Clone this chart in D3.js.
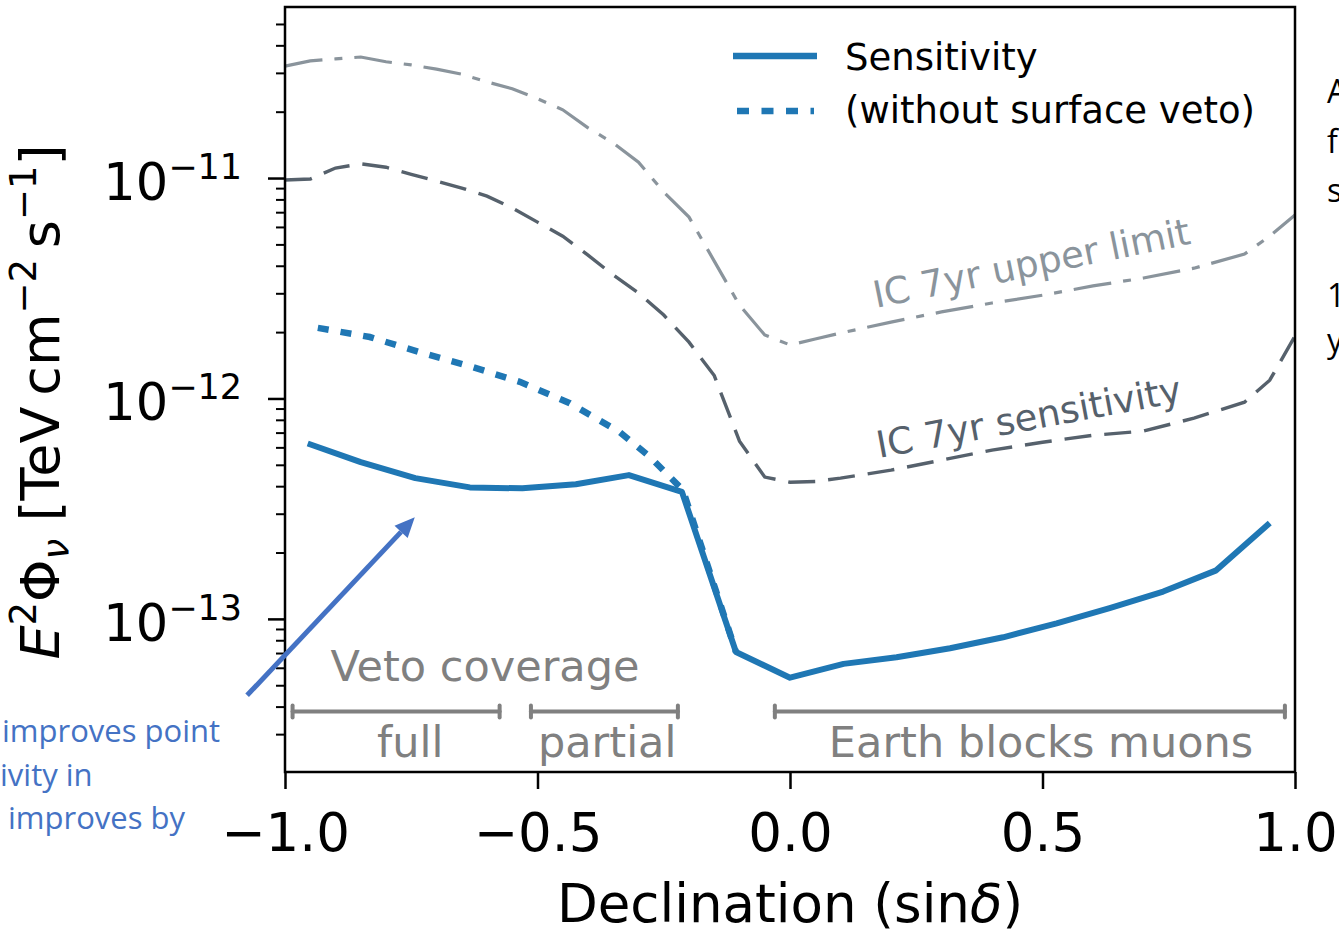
<!DOCTYPE html>
<html>
<head>
<meta charset="utf-8">
<script src="https://cdn.jsdelivr.net/npm/d3@7"></script>
<style>
  body { margin: 0; background: #fff; }
  svg { display: block; }
</style>
</head>
<body>
<script>
// sensitivity with surface veto (solid)
var sinDec = [-0.955, -0.85, -0.742, -0.634, -0.53, -0.424, -0.319, -0.214, -0.107, 0.0,
              0.106, 0.211, 0.317, 0.422, 0.528, 0.633, 0.739, 0.844, 0.95];
var sensitivity = [6.25e-13, 5.14e-13, 4.35e-13, 3.95e-13, 3.91e-13, 4.08e-13, 4.49e-13, 3.77e-13, 7.08e-14, 5.41e-14,
                   6.25e-14, 6.70e-14, 7.36e-14, 8.25e-14, 9.55e-14, 1.12e-13, 1.33e-13, 1.66e-13, 2.72e-13];

// without surface veto (dotted)
var noVetoDec = [-0.935, -0.832, -0.733, -0.634, -0.535, -0.436, -0.337, -0.277, -0.212, -0.107];
var noVeto = [2.09e-12, 1.90e-12, 1.62e-12, 1.40e-12, 1.19e-12, 9.52e-13, 7.03e-13, 5.42e-13, 3.84e-13, 7.08e-14];

// IceCube 7yr curves
var icDec = [-1.0, -0.95, -0.9, -0.85, -0.8, -0.75, -0.7, -0.65, -0.6, -0.55, -0.5, -0.45, -0.4, -0.35, -0.3,
             -0.25, -0.2, -0.15, -0.1, -0.05, 0.0, 0.05, 0.1, 0.2, 0.3, 0.4, 0.5, 0.6, 0.7, 0.8, 0.9, 0.95, 1.0];
var icUpper = [3.22e-11, 3.40e-11, 3.47e-11, 3.54e-11, 3.37e-11, 3.26e-11, 3.12e-11, 2.96e-11, 2.73e-11, 2.54e-11,
               2.29e-11, 2.04e-11, 1.69e-11, 1.44e-11, 1.18e-11, 8.64e-12, 6.65e-12, 4.2e-12, 2.65e-12, 1.94e-12,
               1.75e-12, 1.86e-12, 1.98e-12, 2.22e-12, 2.47e-12, 2.71e-12, 2.94e-12, 3.24e-12, 3.52e-12, 3.90e-12,
               4.52e-12, 5.45e-12, 6.79e-12];
var icSens = [9.79e-12, 9.9e-12, 1.11e-11, 1.16e-11, 1.12e-11, 1.04e-11, 9.69e-12, 9.01e-12, 8.28e-12, 7.31e-12,
              6.31e-12, 5.45e-12, 4.47e-12, 3.63e-12, 3.01e-12, 2.39e-12, 1.80e-12, 1.27e-12, 6.4e-13, 4.40e-13,
              4.17e-13, 4.2e-13, 4.35e-13, 4.73e-13, 5.25e-13, 5.83e-13, 6.33e-13, 6.81e-13, 7.11e-13, 8.14e-13,
              9.62e-13, 1.21e-12, 1.92e-12];

// veto coverage ranges and label centres
var vetoRanges = [[-0.985, -0.575], [-0.513, -0.222], [-0.03, 0.98]];
var vetoLabels = ["full", "partial", "Earth blocks muons"];
var vetoLabelX = [-0.752, -0.362, 0.497];

var xTicks = [-1.0, -0.5, 0.0, 0.5, 1.0];
var yMajor = [1e-13, 1e-12, 1e-11];
var yExp = ["−13", "−12", "−11"];

var width = 1339, height = 937;
var plotL = 285, plotR = 1295, plotT = 7, plotB = 772;

var svg = d3.select("body").append("svg")
    .attr("width", width)
    .attr("height", height)
    .style("font-family", "'DejaVu Sans', sans-serif");

svg.append("rect").attr("width", width).attr("height", height).attr("fill", "#fff");

var x = d3.scaleLinear().domain([-1, 1]).range([plotL, plotR]);
var y = d3.scaleLog().domain([2.02e-14, 5.97e-11]).range([plotB, plotT]);

var line = d3.line()
    .x(d => x(d[0]))
    .y(d => y(d[1]));

// IC curves
svg.append("path")
    .datum(d3.zip(icDec, icUpper))
    .attr("d", line)
    .attr("fill", "none")
    .attr("stroke", "#8a949c")
    .attr("stroke-width", 3.2)
    .attr("stroke-dasharray", "38 12 8 12");

svg.append("path")
    .datum(d3.zip(icDec, icSens))
    .attr("d", line)
    .attr("fill", "none")
    .attr("stroke", "#56616c")
    .attr("stroke-width", 3.4)
    .attr("stroke-dasharray", "27 13");

// sensitivity
svg.append("path")
    .datum(d3.zip(sinDec, sensitivity))
    .attr("d", line)
    .attr("fill", "none")
    .attr("stroke", "#1f77b4")
    .attr("stroke-width", 6)
    .attr("stroke-linejoin", "round");

svg.append("path")
    .datum(d3.zip(noVetoDec, noVeto))
    .attr("d", line)
    .attr("fill", "none")
    .attr("stroke", "#1f77b4")
    .attr("stroke-width", 6.5)
    .attr("stroke-dasharray", "11 12");

// curve labels
svg.append("text")
    .attr("transform", "translate(876,308) rotate(-11.5)")
    .attr("fill", "#8a949c")
    .style("font-size", "37px")
    .text("IC 7yr upper limit");

svg.append("text")
    .attr("transform", "translate(879,458) rotate(-10.5)")
    .attr("fill", "#56616c")
    .style("font-size", "37px")
    .text("IC 7yr sensitivity");

// veto coverage
var gray = "#808080";
var barY = y(3.8e-14);
var bars = svg.append("g").attr("stroke", gray).attr("stroke-width", 4).attr("stroke-linecap", "round");
vetoRanges.forEach(function (r, i) {
    bars.append("line").attr("x1", x(r[0])).attr("x2", x(r[1])).attr("y1", barY).attr("y2", barY);
    bars.append("line").attr("x1", x(r[0])).attr("x2", x(r[0])).attr("y1", barY - 6).attr("y2", barY + 6);
    bars.append("line").attr("x1", x(r[1])).attr("x2", x(r[1])).attr("y1", barY - 6).attr("y2", barY + 6);
    svg.append("text")
        .attr("x", x(vetoLabelX[i]))
        .attr("y", barY + 45)
        .attr("text-anchor", "middle")
        .attr("fill", gray)
        .style("font-size", "43px")
        .text(vetoLabels[i]);
});
svg.append("text")
    .attr("x", x(-0.91))
    .attr("y", barY - 31)
    .attr("fill", gray)
    .style("font-size", "43px")
    .text("Veto coverage");

// frame
svg.append("rect")
    .attr("x", plotL).attr("y", plotT)
    .attr("width", plotR - plotL).attr("height", plotB - plotT)
    .attr("fill", "none")
    .attr("stroke", "#000")
    .attr("stroke-width", 2.5);

// x axis
var xAxis = svg.append("g")
    .attr("transform", "translate(0," + plotB + ")")
    .call(d3.axisBottom(x).tickValues(xTicks).tickSize(17).tickPadding(24).tickFormat(d3.format(".1f")));
xAxis.select(".domain").remove();
xAxis.selectAll(".tick line").attr("stroke-width", 2.5);
xAxis.selectAll(".tick text").style("font-size", "53px").style("font-family", "'DejaVu Sans'").attr("fill", "#000");

// y axis, minor ticks
var yMinor = [];
[1e-14, 1e-13, 1e-12, 1e-11].forEach(function (d) {
    for (var k = 2; k <= 9; k++) {
        var v = d * k;
        if (v >= 2.02e-14 && v <= 5.97e-11) yMinor.push(v);
    }
});
var yAxisMinor = svg.append("g")
    .attr("transform", "translate(" + plotL + ",0)")
    .call(d3.axisLeft(y).tickValues(yMinor).tickSize(9).tickFormat(""));
yAxisMinor.select(".domain").remove();
yAxisMinor.selectAll(".tick line").attr("stroke-width", 2);

var yAxis = svg.append("g")
    .attr("transform", "translate(" + plotL + ",0)")
    .call(d3.axisLeft(y).tickValues(yMajor).tickSize(17).tickFormat(""));
yAxis.select(".domain").remove();
yAxis.selectAll(".tick line").attr("stroke-width", 2.5);

yMajor.forEach(function (v, i) {
    var t = svg.append("text")
        .attr("x", 242)
        .attr("y", y(v) + 22)
        .attr("text-anchor", "end")
        .attr("fill", "#000");
    t.append("tspan").style("font-size", "51px").text("10");
    t.append("tspan").attr("dy", -21).style("font-size", "35px").text(yExp[i]);
});

// axis labels
svg.append("text")
    .attr("x", (plotL + plotR) / 2)
    .attr("y", 922)
    .attr("text-anchor", "middle")
    .style("font-size", "53px")
    .html("Declination (sin<tspan font-style='italic'>δ</tspan>)");

var yl = svg.append("text")
    .attr("transform", "translate(59,402) rotate(-90)")
    .attr("text-anchor", "middle")
    .style("font-size", "54px");
yl.append("tspan").attr("font-style", "italic").text("E");
yl.append("tspan").attr("dy", -23).style("font-size", "37px").text("2");
yl.append("tspan").attr("dy", 23).text("Φ");
yl.append("tspan").attr("dy", 10).attr("font-style", "italic").style("font-size", "37px").text("ν");
yl.append("tspan").attr("dy", -10).text(" [TeV\u2009cm");
yl.append("tspan").attr("dy", -23).style("font-size", "37px").text("−2");
yl.append("tspan").attr("dy", 23).text("\u2009s");
yl.append("tspan").attr("dy", -23).style("font-size", "37px").text("−1");
yl.append("tspan").attr("dy", 23).text("]");

// legend
var lg = svg.append("g");
lg.append("line").attr("x1", 733).attr("x2", 817).attr("y1", 56).attr("y2", 56)
    .attr("stroke", "#1f77b4").attr("stroke-width", 6.5);
lg.append("line").attr("x1", 737).attr("x2", 814).attr("y1", 111).attr("y2", 111)
    .attr("stroke", "#1f77b4").attr("stroke-width", 6.5).attr("stroke-dasharray", "12 12.5");
lg.append("text").attr("x", 845).attr("y", 70).style("font-size", "37px").text("Sensitivity");
lg.append("text").attr("x", 845).attr("y", 123).style("font-size", "37px").text("(without surface veto)");

// slide overlay: arrow and clipped text
var blue = "#4472C4";
var tail = [x(-1.075), y(4.5e-14)], tip = [x(-0.743), y(2.89e-13)];
var ang = Math.atan2(tip[1] - tail[1], tip[0] - tail[0]);
var hl = 20, hw = 9;
var base = [tip[0] - hl * Math.cos(ang), tip[1] - hl * Math.sin(ang)];
svg.append("line")
    .attr("x1", tail[0]).attr("y1", tail[1]).attr("x2", base[0]).attr("y2", base[1])
    .attr("stroke", blue).attr("stroke-width", 5);
svg.append("polygon")
    .attr("points", [tip,
        [base[0] + hw * Math.sin(ang), base[1] - hw * Math.cos(ang)],
        [base[0] - hw * Math.sin(ang), base[1] + hw * Math.cos(ang)]].map(p => p.join(",")).join(" "))
    .attr("fill", blue);

var leftText = [["improves point", 2, 742], ["ivity in", 0, 786], ["improves by", 8, 829]];
leftText.forEach(function (d) {
    svg.append("text").attr("x", d[1]).attr("y", d[2])
        .style("font-family", "'Open Sans', sans-serif").style("font-size", "31px")
        .attr("fill", blue).text(d[0]);
});

var rightText = [["A", 103], ["f", 153], ["s", 202], ["1", 307], ["y", 352]];
rightText.forEach(function (d) {
    svg.append("text").attr("x", 1327).attr("y", d[1])
        .style("font-family", "'Open Sans', sans-serif").style("font-size", "32px")
        .attr("fill", "#000").text(d[0]);
});
</script>
</body>
</html>
